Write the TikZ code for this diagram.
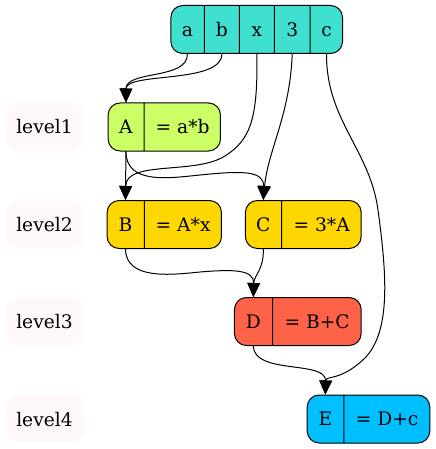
\documentclass[tikz,border=0pt]{standalone}
\usepackage{fontspec}
\setmainfont{DejaVu Serif}
\usetikzlibrary{shapes.multipart, arrows.meta}

\definecolor{turq}{HTML}{40E0D0}
\definecolor{lime}{HTML}{CCFF66}
\definecolor{goldc}{HTML}{FFD700}
\definecolor{tomatoc}{HTML}{FF6347}
\definecolor{skyc}{HTML}{00BFFF}
\definecolor{snowc}{HTML}{FFF8F8}

\newcommand{\fld}[2]{\makebox[#1]{\rule[-13pt]{0pt}{36pt}#2}}

\tikzset{
	rec/.style={rectangle split, rectangle split horizontal, draw=black, line width=0.75pt,
		rounded corners=9pt, inner xsep=0pt, inner ysep=0pt, font=\fontsize{14}{16}\selectfont},
	lvl/.style={fill=snowc, rounded corners=9pt, minimum width=58pt, minimum height=35.5pt,
		inner sep=0pt, font=\fontsize{14}{16}\selectfont},
	dep/.style={-{Triangle[length=10.5pt,width=9.5pt]}, line width=0.75pt}
}

\begin{document}
\begin{tikzpicture}[x=0.75pt, y=-0.75pt]
	\useasboundingbox (0,0) rectangle (435,449);

	\node[lvl] (l1) at (44.5, 127) {level1};
	\node[lvl] (l2) at (44.5, 224.5) {level2};
	\node[lvl] (l3) at (44.5, 321.5) {level3};
	\node[lvl] (l4) at (44.5, 419.5) {level4};

	\node[rec, fill=turq, rectangle split parts=5] (top) at (256.7, 29.5)
		{\fld{24.75pt}{a}\nodepart{two}\fld{25.5pt}{b}\nodepart{three}\fld{25.5pt}{x}\nodepart{four}\fld{26pt}{3}\nodepart{five}\fld{24pt}{c}};
	\node[rec, fill=lime, rectangle split parts=2] (A) at (164.3, 127)
		{\fld{26.7pt}{A}\nodepart{two}\fld{56.8pt}{= a*b}};
	\node[rec, fill=goldc, rectangle split parts=2] (B) at (164.3, 224.5)
		{\fld{27.5pt}{B}\nodepart{two}\fld{57.5pt}{= A*x}};
	\node[rec, fill=goldc, rectangle split parts=2] (C) at (303.3, 224.5)
		{\fld{26.8pt}{C}\nodepart{two}\fld{59.3pt}{= 3*A}};
	\node[rec, fill=tomatoc, rectangle split parts=2] (D) at (297.8, 321.5)
		{\fld{28.3pt}{D}\nodepart{two}\fld{66pt}{= B+C}};
	\node[rec, fill=skyc, rectangle split parts=2] (E) at (368.5, 419)
		{\fld{27.2pt}{E}\nodepart{two}\fld{64pt}{= D+c}};

	\draw[dep] (top.one south) .. controls (188, 80) and (126, 70) .. (A.one north);
	\draw[dep] (top.two south) .. controls (222, 84) and (126, 72) .. (A.one north);
	\draw[dep] (top.three south) .. controls (258, 120) and (250, 140) .. (225, 156)
		.. controls (195, 175) and (126, 160) .. (B.one north);
	\draw[dep] (top.four south) .. controls (290, 115) and (268, 150) .. (C.one north);
	\draw[dep] (top.five south) .. controls (326, 120) and (370, 150) .. (378, 210)
		.. controls (386, 270) and (392, 330) .. (365, 358)
		.. controls (340, 382) and (326, 375) .. (E.one north);
	\draw[dep] (A.one south) -- (B.one north);
	\draw[dep] (A.one south) .. controls (126, 185) and (170, 178) .. (200, 175)
		.. controls (240, 171) and (264, 170) .. (C.one north);
	\draw[dep] (B.one south) .. controls (126, 280) and (170, 275) .. (200, 272)
		.. controls (235, 269) and (254, 270) .. (D.one north);
	\draw[dep] (C.one south) .. controls (264, 270) and (254, 275) .. (D.one north);
	\draw[dep] (D.one south) .. controls (254, 375) and (326, 360) .. (E.one north);
\end{tikzpicture}
\end{document}
